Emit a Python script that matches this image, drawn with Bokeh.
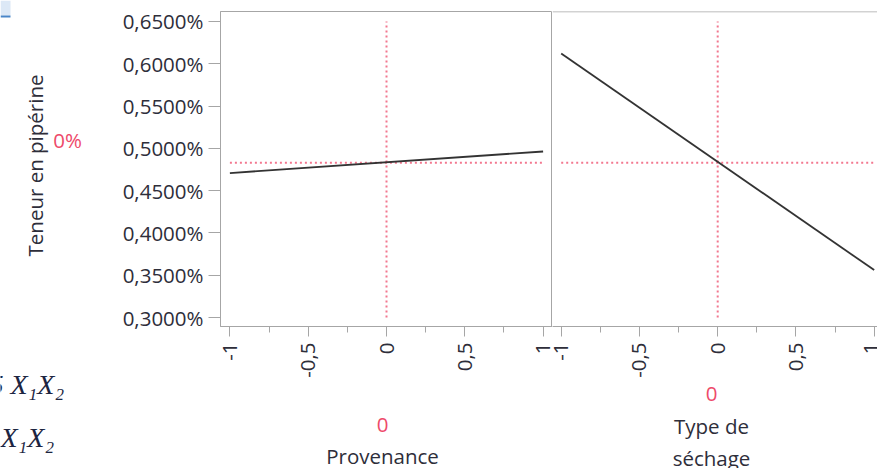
from math import pi
from bokeh.plotting import figure
from bokeh.layouts import row, column
from bokeh.models import FixedTicker, CustomJSTickFormatter, Label, Span, Range1d, BoxAnnotation
from bokeh.embed import file_html
from bokeh.resources import INLINE

# ---- data ----
factor_x = [-1, 1]
provenance_y = [0.4708, 0.4963]      # Teneur en pipérine (%) vs Provenance
sechage_y = [0.6122, 0.3561]         # Teneur en pipérine (%) vs Type de séchage
current_x = 0
current_y = 0.4830
y_ticks = [0.30, 0.35, 0.40, 0.45, 0.50, 0.55, 0.60, 0.65]
x_ticks = [-1, -0.5, 0, 0.5, 1]
x_minor_ticks = [-0.75, -0.25, 0.25, 0.75]
y_label = "Teneur en pipérine"
y_current_label = "0%"
factor_names = ["Provenance", "Type de\nséchage"]
factor_current = ["0", "0"]
eq_fragments = ["5 X\u2081X\u2082", "X\u2081X\u2082"]

FONT = "Open Sans"
FS = "20.5px"
TXT = "#2e2e3a"
RED = "#ee4a6a"
GRAY = "#a6a6a6"
EQ = "#1c2541"

y_rng = Range1d(0.2894, 0.6618)

fmt_y = CustomJSTickFormatter(code="return tick.toFixed(4).replace('.', ',') + '%';")
fmt_x = CustomJSTickFormatter(code="return tick.toString().replace('.', ',');")


def blank(w, h, x0, x1, y0, y1):
    p = figure(output_backend="svg", toolbar_location=None, width=w, height=h,
               x_range=Range1d(x0, x1), y_range=Range1d(y0, y1),
               min_border=0)
    p.axis.visible = False
    p.grid.visible = False
    p.outline_line_color = None
    p.background_fill_color = None
    p.border_fill_color = None
    return p


def lbl(p, x, y, text, color=TXT, **kw):
    opts = dict(text_align="center", text_baseline="middle",
                text_font=FONT, text_font_size=FS, text_color=color)
    opts.update(kw)
    p.add_layout(Label(x=x, y=y, text=text, **opts))


def style(p):
    p.xgrid.visible = False
    p.ygrid.visible = False
    ax = p.xaxis[0]
    ax.ticker = FixedTicker(ticks=x_ticks, minor_ticks=x_minor_ticks)
    ax.formatter = fmt_x
    ax.major_label_orientation = pi / 2
    ax.major_label_text_font = FONT
    ax.major_label_text_font_size = FS
    ax.major_label_text_color = TXT
    ax.major_label_standoff = 6
    ax.major_tick_out = 10
    ax.major_tick_in = 0
    ax.minor_tick_out = 6
    ax.minor_tick_in = 0
    ax.axis_line_color = GRAY
    ax.major_tick_line_color = GRAY
    ax.minor_tick_line_color = GRAY


def add_curve(p, ys):
    p.line([-1, 1], [current_y, current_y], line_color=RED, line_width=2,
           line_dash="2 3", line_alpha=0.75)
    p.line([current_x, current_x], [y_ticks[0], y_ticks[-1]], line_color=RED,
           line_width=2, line_dash="2 3", line_alpha=0.75)
    p.line(factor_x, ys, line_color="#333333", line_width=1.8)


# ---- left text strip (page px coordinates, y measured from bottom) ----
pL = blank(100, 468, 0, 100, 0, 468)
pL.add_layout(BoxAnnotation(left=0, right=10, bottom=453, top=468,
                            fill_color="#dce8f6", fill_alpha=1, line_color=None))
pL.add_layout(BoxAnnotation(left=0, right=10, bottom=451, top=453,
                            fill_color="#4a86c8", fill_alpha=1, line_color=None))
lbl(pL, 34, 303, y_label, angle=pi / 2)
lbl(pL, 67, 329, y_current_label, color=RED)
lbl(pL, -11, 84, eq_fragments[0], color=EQ, text_align="left",
    text_font="Liberation Serif", text_font_style="italic", text_font_size="28px")
lbl(pL, 0, 31, eq_fragments[1], color=EQ, text_align="left",
    text_font="Liberation Serif", text_font_style="italic", text_font_size="28px")

# ---- left panel ----
p1 = figure(output_backend="svg", toolbar_location=None,
            x_range=Range1d(-1.06, 1.06), y_range=y_rng,
            frame_width=332, frame_height=315,
            min_border_left=120, min_border_right=0,
            min_border_top=11, min_border_bottom=70)
p1.outline_line_color = GRAY
style(p1)
ya = p1.yaxis[0]
ya.ticker = FixedTicker(ticks=y_ticks, minor_ticks=[])
ya.formatter = fmt_y
ya.major_label_text_font = FONT
ya.major_label_text_font_size = FS
ya.major_label_text_color = TXT
ya.major_label_standoff = 5
ya.major_tick_out = 12
ya.major_tick_in = 0
ya.axis_line_color = GRAY
ya.major_tick_line_color = GRAY
add_curve(p1, provenance_y)

# ---- right panel ----
p2 = figure(output_backend="svg", toolbar_location=None,
            x_range=Range1d(-1.0556, 1.0211), y_range=y_rng,
            frame_width=325, frame_height=315,
            min_border_left=0, min_border_right=0,
            min_border_top=11, min_border_bottom=70)
p2.outline_line_color = None
style(p2)
p2.yaxis.visible = False
p2.add_layout(Span(location=y_rng.end, dimension="width", line_color=GRAY, line_width=1.5))
add_curve(p2, sechage_y)

# ---- bottom strip with factor names (overlaps the axis area, transparent) ----
pB = blank(777, 88, 100, 877, 0, 88)
pB.styles = {"margin-top": "-16px"}
lbl(pB, 382, 44, factor_current[0], color=RED)
lbl(pB, 382, 13, factor_names[0])
lbl(pB, 711, 74.5, factor_current[1], color=RED)
for i, part in enumerate(factor_names[1].split("\n")):
    lbl(pB, 711, [42.5, 11][i], part)

layout = row(pL, column(row(p1, p2, spacing=0), pB, spacing=0), spacing=0)
open("out.html", "w").write(file_html(layout, INLINE))
